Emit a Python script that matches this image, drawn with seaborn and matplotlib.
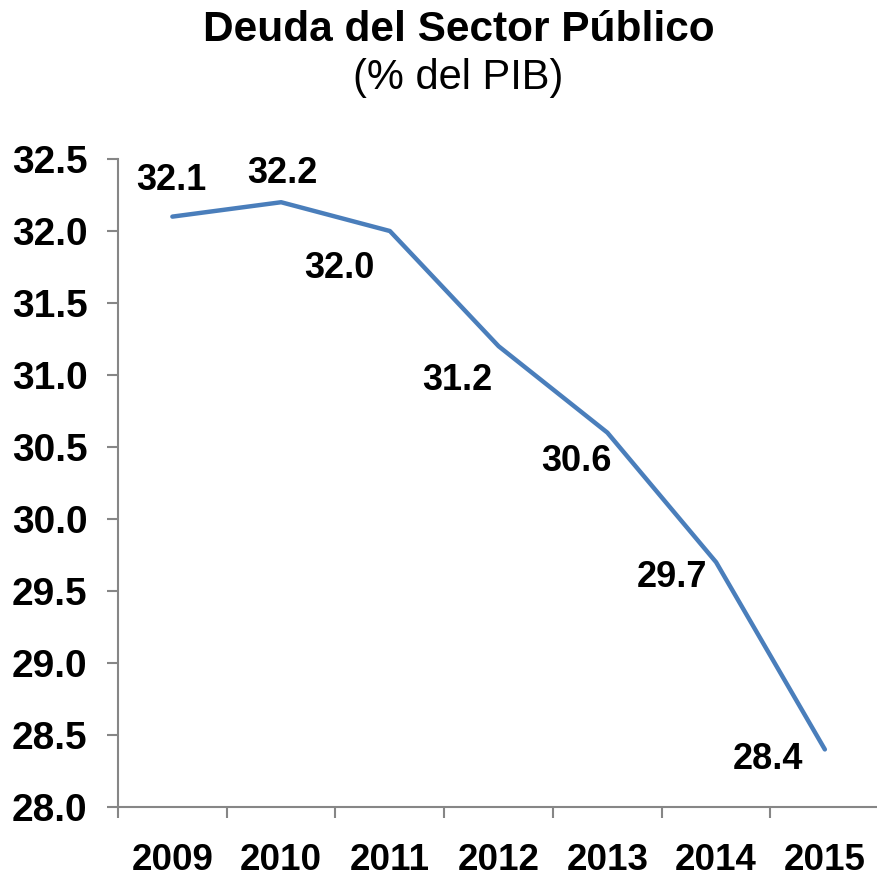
import numpy as np
import pandas as pd
import matplotlib
matplotlib.use("Agg")
import matplotlib.pyplot as plt
import seaborn as sns

# datos
years = ["2009", "2010", "2011", "2012", "2013", "2014", "2015"]
deuda = [32.1, 32.2, 32.0, 31.2, 30.6, 29.7, 28.4]
y_ticks = [28.0, 28.5, 29.0, 29.5, 30.0, 30.5, 31.0, 31.5, 32.0, 32.5]

# desplazamiento de las etiquetas (puntos)
label_offsets = [(-1, 26), (1, 21), (-36, -27), (-30, -25), (-22, -21), (-32, -11), (-41, -7)]

sns.set_style("white")
plt.rcParams["font.family"] = ["Liberation Sans", "DejaVu Sans"]
plt.rcParams["text.color"] = "black"
plt.rcParams["xtick.labelcolor"] = "black"
plt.rcParams["ytick.labelcolor"] = "black"

df = pd.DataFrame({"year": years, "deuda": deuda})

fig = plt.figure(figsize=(8.78, 8.82), dpi=100)
ax = fig.add_axes([0.1344, 0.085, 0.867, 0.7347])

sns.lineplot(data=df, x="year", y="deuda", ax=ax, color="#4a7ebb", linewidth=3.2, sort=False)

for i, v in enumerate(deuda):
    ax.annotate(f"{v:.1f}", xy=(i, v), xytext=label_offsets[i], textcoords="offset points",
                ha="center", va="center", fontsize=26, fontweight="bold", color="black")

ax.set_xlim(-0.5, len(years) - 0.5)
ax.set_ylim(28.0, 32.5)
ax.set_yticks(y_ticks)
ax.set_yticklabels([f"{t:.1f}" for t in y_ticks])

# ticks entre categorias, etiquetas en el centro
ax.set_xticks(np.arange(-0.5, len(years), 1.0))
ax.set_xticklabels([])
ax.set_xticks(np.arange(len(years)), minor=True)
ax.set_xticklabels(years, minor=True)
ax.tick_params(axis="x", which="major", direction="out", length=8, width=1.5, color="#868686", bottom=True)
ax.tick_params(axis="x", which="minor", length=0, pad=26, labelsize=26.5)
ax.tick_params(axis="y", direction="out", length=8, width=1.5, color="#868686", left=True, pad=14, labelsize=28)
for lab in ax.get_xticklabels(minor=True) + ax.get_yticklabels():
    lab.set_fontweight("bold")

for s in ["top", "right"]:
    ax.spines[s].set_visible(False)
for s in ["left", "bottom"]:
    ax.spines[s].set_color("#868686")
    ax.spines[s].set_linewidth(1.5)

ax.set_xlabel("")
ax.set_ylabel("")

fig.text(0.522, 0.966, "Deuda del Sector Público", ha="center", va="center", fontsize=30.5, fontweight="bold")
fig.text(0.522, 0.912, "(% del PIB)", ha="center", va="center", fontsize=30)

fig.savefig("out.png", dpi=100)
